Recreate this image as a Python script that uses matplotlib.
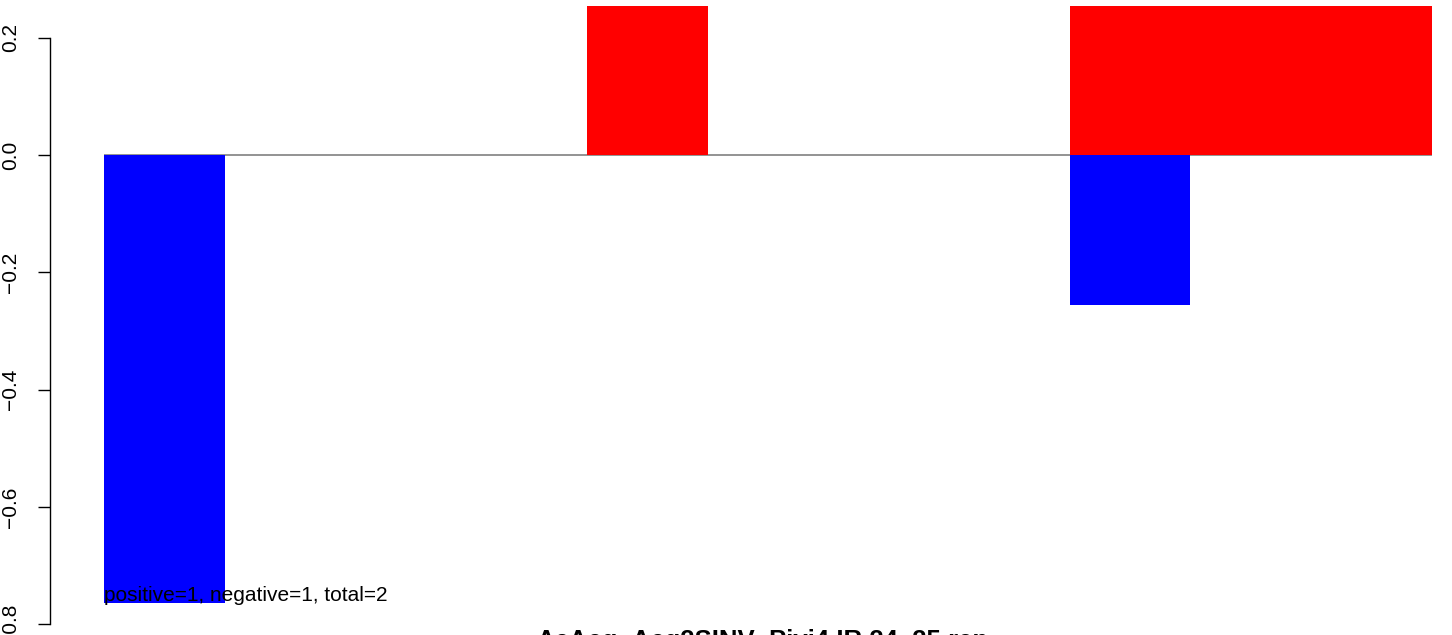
import matplotlib
matplotlib.use("Agg")
import matplotlib.pyplot as plt

# ---- data ----
title = "AcAcq_Acq2SINV_Pivi4.IR.24_25.rep"
note = "positive=1, negative=1, total=2"
neg_values = [-0.763, -0.256]      # blue bars
pos_values = [0.30, 0.30]          # red bars (clipped at top)
yticks = [-0.8, -0.6, -0.4, -0.2, 0.0, 0.2]
ytick_labels = ["\u22120.8", "\u22120.6", "\u22120.4", "\u22120.2", "0.0", "0.2"]

# ---- layout (not data) ----
neg_left = [0, 8]
neg_width = [1, 1]
pos_left = [4, 8]
pos_width = [1, 3]

plt.rcParams['font.family'] = ['Liberation Sans', 'DejaVu Sans']
W, H = 1452, 635
fig = plt.figure(figsize=(W / 100, H / 100), dpi=100)

ax_left_px, ax_top_px = 50, 6
ax = fig.add_axes([ax_left_px / W, 0, 1 - ax_left_px / W, (H - ax_top_px) / H])

px_per_unit = 586.6
y0_px = 155.0
ax.set_ylim(-(H - y0_px) / px_per_unit, (y0_px - ax_top_px) / px_per_unit)
ux = 120.7
x0_px = 104
ax.set_xlim((ax_left_px - x0_px) / ux, (W - x0_px) / ux)

ax.bar(neg_left, neg_values, width=neg_width, align='edge', color='#0000FF', zorder=2)
ax.bar(pos_left, pos_values, width=pos_width, align='edge', color='#FF0000', zorder=2)
ax.plot([0, max(l + w for l, w in zip(pos_left, pos_width))], [0, 0],
        color='#808080', lw=1.2, zorder=1, solid_capstyle='butt')

ax.text(0, neg_values[0] + 0.003, note, ha='left', va='baseline', fontsize=15, zorder=3)

for s in ['top', 'right', 'bottom']:
    ax.spines[s].set_visible(False)
ax.spines['left'].set_bounds(-0.8, 0.2)
ax.spines['left'].set_linewidth(1.0)
ax.set_xticks([])
ax.set_yticks(yticks)
ax.set_yticklabels(ytick_labels, rotation=90, va='center', fontsize=15)
ax.tick_params(axis='y', length=8.6, width=1.0, pad=13)

fig.text(762 / W, 1 - 629 / H, title, ha='center', va='top', fontsize=18.5, fontweight='bold')

fig.savefig("out.png", dpi=100)
